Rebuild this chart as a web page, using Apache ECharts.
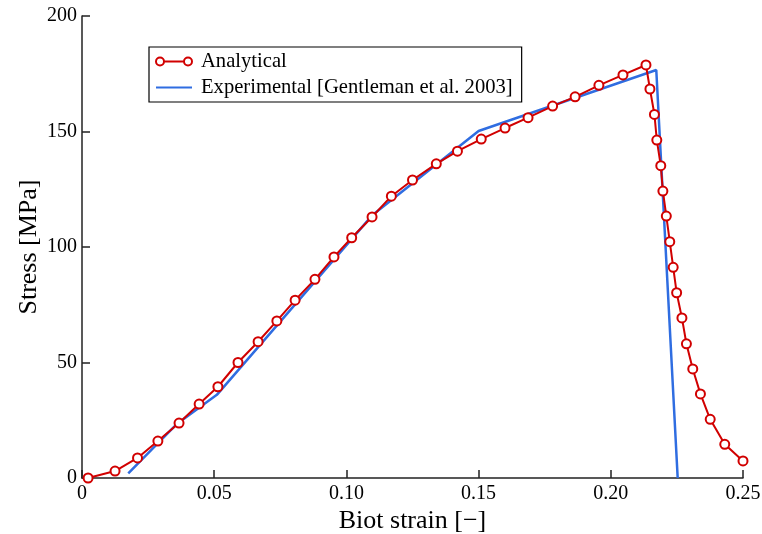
<!DOCTYPE html>
<html>
<head>
<meta charset="utf-8">
<script src="https://cdn.jsdelivr.net/npm/echarts@6/dist/echarts.min.js"></script>
<style>html,body{margin:0;padding:0;background:#fff}#c{width:762px;height:534px}</style>
</head>
<body>
<div id="c"></div>
<script>
// Analytical model (strain, stress)
var analyticalStrain = [0.0023,0.0125,0.021,0.0287,0.0367,0.0443,0.0514,0.059,0.0666,0.0737,0.0806,0.0881,0.0953,0.102,0.1097,0.117,0.125,0.134,0.142,0.151,0.16,0.1687,0.178,0.1865,0.1955,0.2046,0.2133,
  0.2148,0.2165,0.2174,0.2189,0.2197,0.221,0.2223,0.2236,0.2249,0.2269,0.2286,0.231,0.2339,0.2376,0.2431,0.25];
var analyticalStress = [0,3,8.7,16,23.8,32,39.5,50,59,68,77,86,95.7,104,113,122,129,136,141.5,146.7,151.5,156,161,165,170,174.5,178.8,
  168.4,157.4,146.3,135.2,124.2,113.4,102.3,91.2,80.2,69.3,58.1,47.2,36.4,25.4,14.6,7.4];
// Experimental [Gentleman et al. 2003]
var expStrain = [0.0175,0.036,0.051,0.11,0.15,0.2172,0.2253];
var expStress = [2,23.5,36,114,150.2,176.6,0];
var xTicks = {min:0,max:0.25,interval:0.05};
var yTicks = {min:0,max:200,interval:50};

function pairs(xs, ys){ return xs.map(function(x,i){ return [x, ys[i]]; }); }

var font = '"Liberation Serif", "Times New Roman", serif';
var RED = '#d10000', BLUE = '#2f6de1';
var chart = echarts.init(document.getElementById('c'), null, {renderer:'canvas'});
chart.setOption({
  animation:false,
  backgroundColor:'#fff',
  textStyle:{fontFamily:font},
  grid:{left:82,right:19,top:16,bottom:56,containLabel:false,outerBoundsMode:'none'},
  legend:{
    orient:'vertical', left:149, top:47,
    borderColor:'#000', borderWidth:1.2, borderRadius:0,
    padding:[4,9,4,6], itemGap:5, itemWidth:36, itemHeight:11,
    textStyle:{fontFamily:font,fontSize:20.6,color:'#000',padding:[0,0,0,4]},
    data:[
      {name:'Analytical',
       icon:'path://M0,5A4,4 0 1,0 8,5A4,4 0 1,0 0,5ZM8,5L28,5M28,5A4,4 0 1,0 36,5A4,4 0 1,0 28,5Z',
       itemStyle:{color:'#fff',borderColor:RED,borderWidth:2}},
      {name:'Experimental [Gentleman et al. 2003]',
       icon:'path://M0,4L36,4L36,6.2L0,6.2Z',
       itemStyle:{color:BLUE,borderWidth:0}}
    ]
  },
  xAxis:{
    type:'value', min:xTicks.min, max:xTicks.max, interval:xTicks.interval,
    name:'Biot strain [\u2212]', nameLocation:'middle', nameGap:30, nameMoveOverlap:false,
    nameTextStyle:{fontFamily:font,fontSize:26,color:'#000'},
    axisLine:{lineStyle:{color:'#222',width:1.5}},
    axisTick:{inside:true,length:8,lineStyle:{color:'#222',width:1.5}},
    axisLabel:{fontFamily:font,fontSize:20,color:'#000',margin:6,
      formatter:function(v){return v===0?'0':v.toFixed(2);}},
    splitLine:{show:false}
  },
  yAxis:{
    type:'value', min:yTicks.min, max:yTicks.max, interval:yTicks.interval,
    name:'Stress [MPa]', nameLocation:'middle', nameGap:40, nameMoveOverlap:false,
    nameTextStyle:{fontFamily:font,fontSize:26,color:'#000'},
    axisLine:{show:true,lineStyle:{color:'#222',width:1.5}},
    axisTick:{show:true,inside:true,length:8,lineStyle:{color:'#222',width:1.5}},
    axisLabel:{fontFamily:font,fontSize:20,color:'#000',margin:5},
    splitLine:{show:false}
  },
  series:[
    {
      name:'Analytical', type:'line', data:pairs(analyticalStrain,analyticalStress),
      symbol:'circle', symbolSize:9, showAllSymbol:true, z:3, clip:false,
      lineStyle:{color:RED,width:2},
      itemStyle:{color:'#fff',borderColor:RED,borderWidth:2}
    },
    {
      name:'Experimental [Gentleman et al. 2003]', type:'line', data:pairs(expStrain,expStress),
      symbol:'none', z:2,
      lineStyle:{color:BLUE,width:2.5},
      itemStyle:{color:BLUE}
    }
  ]
});
</script>
</body>
</html>
